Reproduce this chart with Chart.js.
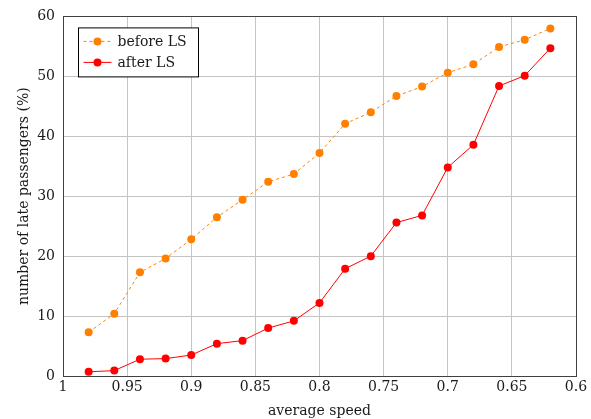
<!DOCTYPE html>
<html lang="en">
<head>
    <meta charset="UTF-8">
    <title>late passengers vs average speed</title>
    <script src="https://cdn.jsdelivr.net/npm/chart.js"></script>
    <style>
        html, body { margin: 0; padding: 0; background: #fff; }
        #wrap { width: 591px; height: 419px; }
    </style>
</head>
<body>
<div id="wrap"><canvas id="myChart" width="591" height="419"></canvas></div>

<script>
    // average speed values (x axis is reversed: 1 -> 0.6)
    const speeds = [0.98, 0.96, 0.94, 0.92, 0.90, 0.88, 0.86, 0.84, 0.82, 0.80,
                    0.78, 0.76, 0.74, 0.72, 0.70, 0.68, 0.66, 0.64, 0.62];
    const beforeLS = [7.3, 10.4, 17.3, 19.6, 22.8, 26.5, 29.4, 32.4, 33.7, 37.2,
                      42.1, 44.0, 46.7, 48.3, 50.6, 52.0, 54.9, 56.1, 58.0];
    const afterLS = [0.7, 0.9, 2.8, 2.9, 3.5, 5.4, 5.9, 8.0, 9.2, 12.2,
                     17.9, 20.0, 25.6, 26.8, 34.8, 38.6, 48.4, 50.1, 54.7];
    const seriesNames = ['before LS', 'after LS'];
    const xTickValues = [1, 0.95, 0.9, 0.85, 0.8, 0.75, 0.7, 0.65, 0.6];
    const yTickValues = [0, 10, 20, 30, 40, 50, 60];

    const serif = "'DejaVu Serif', 'Liberation Serif', serif";

    function toPoints(xs, ys) {
        return xs.map((x, i) => ({x: x, y: ys[i]}));
    }

    // frame around the plot area, like pgfplots
    const framePlugin = {
        id: 'frame',
        afterDatasetsDraw(chart) {
            const a = chart.chartArea;
            const ctx = chart.ctx;
            ctx.save();
            ctx.strokeStyle = '#404040';
            ctx.lineWidth = 1;
            ctx.strokeRect(Math.round(a.left) + 0.5, Math.round(a.top) + 0.5,
                Math.round(a.right - a.left), Math.round(a.bottom - a.top));
            ctx.restore();
        }
    };

    // legend box inside the plot, top left
    const boxLegend = {
        id: 'boxLegend',
        afterDraw(chart) {
            const ctx = chart.ctx;
            const a = chart.chartArea;
            const x0 = a.left + 15.5, y0 = a.top + 11.5;
            const w = 120, h = 49;
            ctx.save();
            ctx.fillStyle = '#fff';
            ctx.fillRect(x0, y0, w, h);
            ctx.strokeStyle = '#000';
            ctx.lineWidth = 1;
            ctx.strokeRect(x0, y0, w, h);
            chart.data.datasets.forEach((ds, i) => {
                const cy = y0 + 13.5 + i * 21;
                ctx.strokeStyle = ds.borderColor;
                ctx.lineWidth = ds.borderWidth;
                ctx.setLineDash(ds.borderDash || []);
                ctx.beginPath();
                ctx.moveTo(x0 + 5, cy);
                ctx.lineTo(x0 + 33, cy);
                ctx.stroke();
                ctx.setLineDash([]);
                ctx.fillStyle = ds.pointBackgroundColor;
                ctx.beginPath();
                ctx.arc(x0 + 19, cy, ds.pointRadius, 0, Math.PI * 2);
                ctx.fill();
                ctx.fillStyle = '#1a1a1a';
                ctx.font = '14px ' + serif;
                ctx.textBaseline = 'middle';
                ctx.textAlign = 'left';
                ctx.fillText(ds.label, x0 + 39, cy + 1);
            });
            ctx.restore();
        }
    };

    const ctx = document.getElementById('myChart').getContext('2d');
    new Chart(ctx, {
        type: 'line',
        data: {
            datasets: [{
                label: seriesNames[0],
                data: toPoints(speeds, beforeLS),
                borderColor: '#ff8000',
                backgroundColor: '#ff8000',
                pointBackgroundColor: '#ff8000',
                pointBorderWidth: 0,
                pointRadius: 4,
                borderWidth: 1,
                borderDash: [3, 3],
                fill: false,
                tension: 0
            }, {
                label: seriesNames[1],
                data: toPoints(speeds, afterLS),
                borderColor: '#ff0000',
                backgroundColor: '#ff0000',
                pointBackgroundColor: '#ff0000',
                pointBorderWidth: 0,
                pointRadius: 4,
                borderWidth: 1,
                fill: false,
                tension: 0
            }]
        },
        options: {
            responsive: false,
            animation: false,
            layout: {padding: {top: 11, right: 15, left: 0, bottom: 0}},
            plugins: {
                legend: {display: false},
                tooltip: {enabled: false}
            },
            scales: {
                x: {
                    type: 'linear',
                    reverse: true,
                    min: 0.6,
                    max: 1,
                    afterFit: (s) => { s.height = 43; },
                    afterBuildTicks: (s) => { s.ticks = xTickValues.map(v => ({value: v})); },
                    ticks: {
                        color: '#1a1a1a',
                        font: {family: serif, size: 14},
                        padding: 3,
                        maxRotation: 0,
                        autoSkip: false,
                        callback: (v) => String(Number(Number(v).toFixed(2)))
                    },
                    grid: {color: '#c4c4c4', lineWidth: 1, drawTicks: false},
                    border: {color: '#404040'},
                    title: {
                        display: true,
                        text: 'average speed',
                        color: '#1a1a1a',
                        font: {family: serif, size: 14, lineHeight: 1},
                        padding: {top: 0, bottom: 1}
                    }
                },
                y: {
                    min: 0,
                    max: 60,
                    afterFit: (s) => { s.width = 63; },
                    afterBuildTicks: (s) => { s.ticks = yTickValues.map(v => ({value: v})); },
                    ticks: {
                        color: '#1a1a1a',
                        font: {family: serif, size: 14},
                        padding: 8
                    },
                    grid: {color: '#c4c4c4', lineWidth: 1, drawTicks: false},
                    border: {color: '#404040'},
                    title: {
                        display: true,
                        text: 'number of late passengers (%)',
                        color: '#1a1a1a',
                        font: {family: serif, size: 14, lineHeight: 1},
                        padding: {top: 17, bottom: 0}
                    }
                }
            }
        },
        plugins: [framePlugin, boxLegend]
    });
</script>
</body>
</html>
